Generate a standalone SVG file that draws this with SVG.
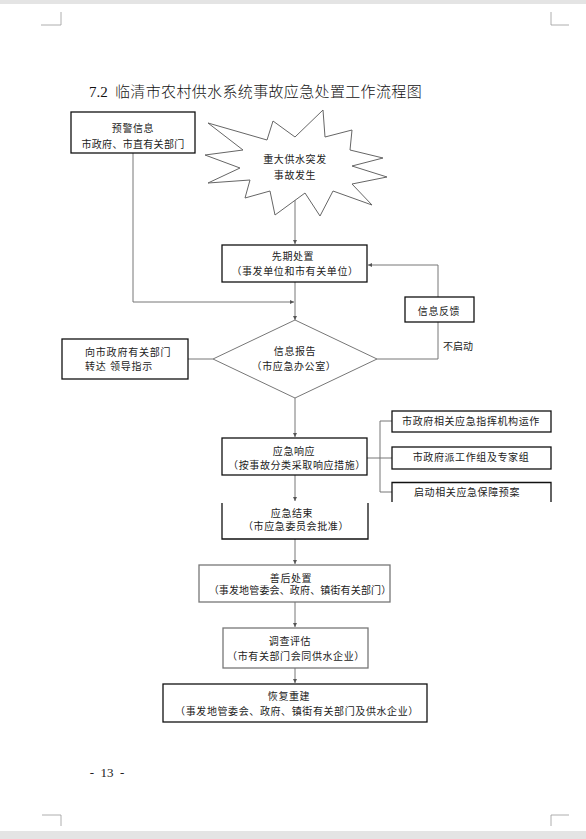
<svg xmlns="http://www.w3.org/2000/svg" width="586" height="839" viewBox="0 0 586 839">
<style>
.t{font-family:"Liberation Serif","Noto Sans CJK SC",serif;font-size:10px;fill:#222;text-anchor:middle;letter-spacing:0.6px}
.tl{font-family:"Liberation Serif","Noto Sans CJK SC",serif;font-size:10px;fill:#222}
.box{fill:#fff;stroke:#111;stroke-width:1.3}
.gbox{fill:#fff;stroke:#777;stroke-width:1.3}
.c{fill:none;stroke:#777;stroke-width:1}
.mk{fill:none;stroke:#999;stroke-width:0.8}
</style>
<defs>
<marker id="ah" viewBox="0 0 6 6" refX="6" refY="3" markerWidth="4" markerHeight="4" orient="auto" markerUnits="userSpaceOnUse">
<path d="M0,0 L6,3 L0,6 z" fill="#555"/>
</marker>
</defs>
<rect x="0" y="0" width="586" height="839" fill="#fff"/>
<rect x="0" y="0" width="586" height="4" fill="#e4e4e4"/>
<rect x="0" y="831" width="586" height="8" fill="#e4e4e4"/>
<g id="cropmarks">
<path class="mk" d="M41,25 H61 V12"/>
<path class="mk" d="M551,12 V25 H569"/>
<path class="mk" d="M42,815 H61 V826"/>
<path class="mk" d="M551,826 V815 H569"/>
</g>
<text x="89" y="96.5" style="font-family:'Liberation Serif','Noto Sans CJK SC',serif;font-size:15px;fill:#111">7.2</text>
<text x="115" y="96.5" style="font-family:'Liberation Serif','Noto Sans CJK SC',serif;font-size:15px;font-weight:300;fill:#111;letter-spacing:0.35px">临清市农村供水系统事故应急处置工作流程图</text>

<g id="connectors">
<path class="c" d="M295,190 V244" marker-end="url(#ah)"/>
<path class="c" d="M133,153 V302 H294" marker-end="url(#ah)"/>
<path class="c" d="M295,282 V320" marker-end="url(#ah)"/>
<path class="c" d="M377,359 H438 V265 H368" marker-end="url(#ah)"/>
<path class="c" d="M213,359 H188"/>
<path class="c" d="M295,398 V437" marker-end="url(#ah)"/>
<path class="c" d="M367,458 H380 M380,421 V492 M380,421 H392 M380,458 H392 M380,492 H392"/>
<path class="c" d="M295,475 V501" marker-end="url(#ah)"/>
<path class="c" d="M295,539 V564" marker-end="url(#ah)"/>
<path class="c" d="M295,602 V627" marker-end="url(#ah)"/>
<path class="c" d="M295,668 V683" marker-end="url(#ah)"/>
</g>

<g id="n-warning">
<rect class="box" x="71" y="112" width="124" height="41"/>
<text class="t" x="133" y="131.5">预警信息</text>
<text class="t" x="133" y="147.5" style="letter-spacing:0.3px">市政府、市直有关部门</text>
</g>

<g id="n-incident">
<path d="M208,123 L267,140 L273,121 L295,137 L323,110 L325,137 L352,130 L350,150 L383,158 L352,166 L387,177 L352,184 L372,205 L333,191 L320,216 L305,193 L275,215 L270,191 L245,198 L250,180 L208,183 L240,168 L205,155 L243,150 Z" fill="#fff" stroke="#666" stroke-width="1"/>
<text class="t" x="295" y="163">重大供水突发</text>
<text class="t" x="295" y="179">事故发生</text>
</g>

<g id="n-initial">
<rect class="box" x="222" y="245" width="145" height="37"/>
<text class="t" x="293" y="260">先期处置</text>
<text class="t" x="295" y="275">（事发单位和市有关单位）</text>
</g>

<g id="n-feedback">
<rect class="box" x="405" y="297" width="69" height="25"/>
<text class="t" x="439" y="315">信息反馈</text>
</g>
<text class="tl" x="443" y="350">不启动</text>

<g id="n-report">
<path d="M295,320 L377,359 L295,398 L213,359 Z" fill="#fff" stroke="#777" stroke-width="1"/>
<text class="t" x="295" y="354.5">信息报告</text>
<text class="t" x="294" y="369.5">（市应急办公室）</text>
</g>

<g id="n-relay">
<rect class="box" x="62" y="339" width="126" height="40"/>
<text class="tl" x="85" y="355.5" style="letter-spacing:0.8px">向市政府有关部门</text>
<text class="tl" x="85" y="370" style="letter-spacing:0.8px">转达 领导指示</text>
</g>

<g id="n-response">
<rect class="box" x="222" y="438" width="145" height="37"/>
<text class="t" x="294" y="454.5">应急响应</text>
<text class="t" x="297" y="469">（按事故分类采取响应措施）</text>
</g>

<g id="n-command">
<rect class="box" x="392" y="411" width="159" height="21"/>
<text class="t" x="471" y="425">市政府相关应急指挥机构运作</text>
</g>
<g id="n-team">
<rect class="box" x="392" y="447" width="159" height="22"/>
<text class="t" x="471" y="461">市政府派工作组及专家组</text>
</g>
<g id="n-plan">
<path d="M392,502 V482.5 H551 V502" fill="#fff" stroke="#111" stroke-width="1.3"/>
<text class="t" x="467" y="496">启动相关应急保障预案</text>
</g>

<g id="n-end">
<path d="M222,503 V539 H368 V503" fill="#fff" stroke="#111" stroke-width="1.3"/>
<text class="t" x="292" y="517">应急结束</text>
<text class="t" x="296" y="530">（市应急委员会批准）</text>
</g>

<g id="n-aftermath">
<rect class="gbox" x="199" y="565" width="191" height="37"/>
<text class="t" x="291" y="582">善后处置</text>
<text class="t" x="300" y="594" style="letter-spacing:0.15px">（事发地管委会、政府、镇街有关部门）</text>
</g>

<g id="n-investigate">
<rect class="gbox" x="223" y="628" width="145" height="40"/>
<text class="t" x="290" y="645">调查评估</text>
<text class="t" x="296" y="660">（市有关部门会同供水企业）</text>
</g>

<g id="n-rebuild">
<rect class="box" x="163" y="684" width="264" height="38"/>
<text class="t" x="289" y="700">恢复重建</text>
<text class="t" x="297" y="715">（事发地管委会、政府、镇街有关部门及供水企业）</text>
</g>

<text x="107" y="777" xml:space="preserve" style="font-family:'Liberation Serif',serif;font-size:13px;fill:#222;text-anchor:middle">-  13  -</text>
</svg>
